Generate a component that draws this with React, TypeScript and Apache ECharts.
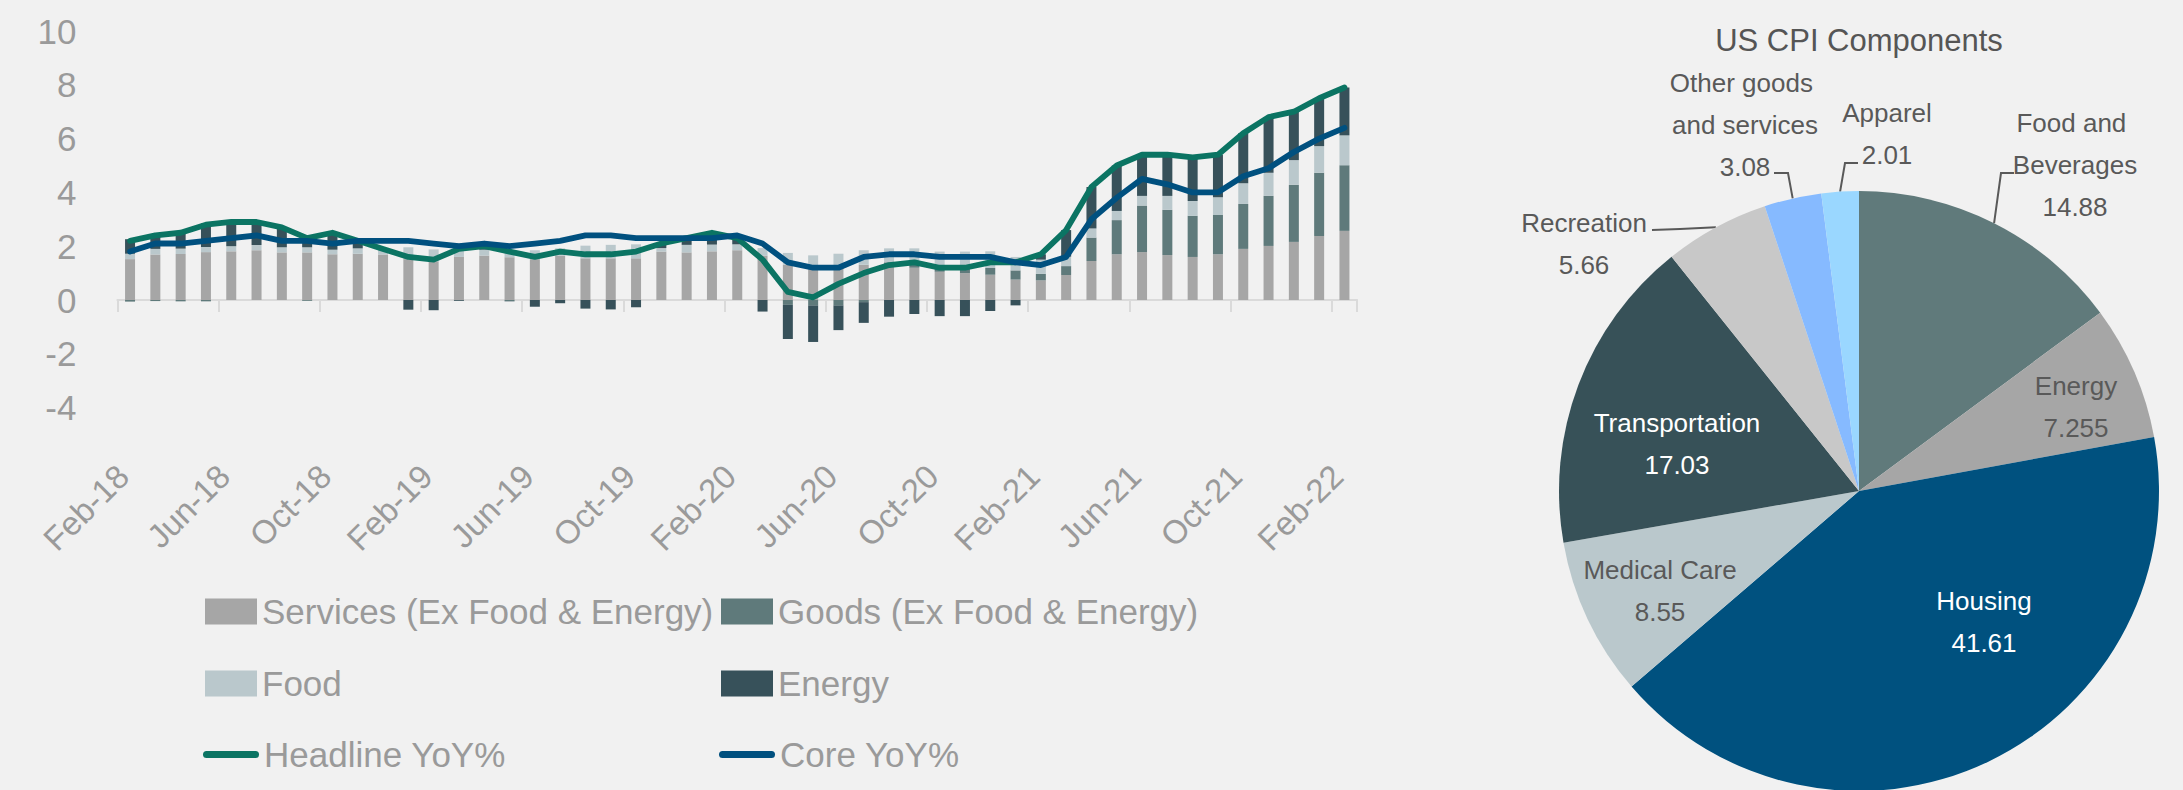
import React, { useEffect, useRef } from 'react';
import * as echarts from 'echarts';

// ---------- Data ----------
const months = [
  'Feb-18', 'Mar-18', 'Apr-18', 'May-18', 'Jun-18', 'Jul-18', 'Aug-18', 'Sep-18', 'Oct-18', 'Nov-18', 'Dec-18',
  'Jan-19', 'Feb-19', 'Mar-19', 'Apr-19', 'May-19', 'Jun-19', 'Jul-19', 'Aug-19', 'Sep-19', 'Oct-19', 'Nov-19', 'Dec-19',
  'Jan-20', 'Feb-20', 'Mar-20', 'Apr-20', 'May-20', 'Jun-20', 'Jul-20', 'Aug-20', 'Sep-20', 'Oct-20', 'Nov-20', 'Dec-20',
  'Jan-21', 'Feb-21', 'Mar-21', 'Apr-21', 'May-21', 'Jun-21', 'Jul-21', 'Aug-21', 'Sep-21', 'Oct-21', 'Nov-21', 'Dec-21',
  'Jan-22', 'Feb-22',
];

const services = [
  1.52, 1.69, 1.71, 1.78, 1.81, 1.85, 1.77, 1.77, 1.70, 1.72, 1.69,
  1.52, 1.44, 1.60, 1.65, 1.59, 1.52, 1.65, 1.55, 1.55, 1.55, 1.80, 1.77,
  1.81, 1.85, 1.65, 1.31, 1.23, 1.19, 1.31, 1.28, 1.20, 1.05, 1.00, 0.94,
  0.76, 0.73, 0.93, 1.45, 1.70, 1.78, 1.67, 1.60, 1.70, 1.90, 2.01, 2.16,
  2.38, 2.57,
];

const goods = [
  -0.06, -0.04, -0.05, -0.05, 0.00, 0.00, 0.00, -0.03, 0.00, 0.00, 0.00,
  0.00, 0.00, 0.00, 0.00, -0.04, 0.00, 0.00, 0.00, 0.00, 0.00, 0.00, 0.00,
  0.00, 0.00, 0.00, -0.18, -0.20, -0.20, -0.08, 0.12, 0.12, 0.20, 0.25, 0.25,
  0.34, 0.24, 0.33, 0.87, 1.27, 1.73, 1.68, 1.53, 1.46, 1.67, 1.86, 2.12,
  2.35, 2.44,
];

const food = [
  0.20, 0.21, 0.20, 0.19, 0.19, 0.19, 0.19, 0.19, 0.17, 0.20, 0.20,
  0.44, 0.44, 0.33, 0.22, 0.26, 0.33, 0.27, 0.47, 0.50, 0.52, 0.13, 0.28,
  0.25, 0.22, 0.28, 0.44, 0.43, 0.53, 0.54, 0.52, 0.60, 0.55, 0.55, 0.62,
  0.50, 0.53, 0.35, 0.34, 0.34, 0.36, 0.52, 0.55, 0.66, 0.77, 0.86, 0.92,
  0.99, 1.11,
];

const energy = [
  0.54, 0.54, 0.64, 0.88, 0.90, 0.86, 0.74, 0.37, 0.63, 0.28, 0.01,
  -0.36, -0.38, -0.03, 0.13, -0.01, -0.25, -0.12, -0.32, -0.35, -0.27, 0.17, 0.25,
  0.44, 0.23, -0.43, -1.27, -1.36, -0.92, -0.77, -0.62, -0.52, -0.60, -0.60, -0.41,
  -0.20, 0.20, 0.99, 1.54, 1.69, 1.53, 1.53, 1.62, 1.58, 1.86, 2.07, 1.80,
  1.78, 1.78,
];

const headline = [
  2.2, 2.4, 2.5, 2.8, 2.9, 2.9, 2.7, 2.3, 2.5, 2.2, 1.9,
  1.6, 1.5, 1.9, 2.0, 1.8, 1.6, 1.8, 1.7, 1.7, 1.8, 2.1, 2.3,
  2.5, 2.3, 1.5, 0.3, 0.1, 0.6, 1.0, 1.3, 1.4, 1.2, 1.2, 1.4,
  1.4, 1.7, 2.6, 4.2, 5.0, 5.4, 5.4, 5.3, 5.4, 6.2, 6.8, 7.0,
  7.5, 7.9,
];

const core = [
  1.8, 2.1, 2.1, 2.2, 2.3, 2.4, 2.2, 2.2, 2.1, 2.2, 2.2,
  2.2, 2.1, 2.0, 2.1, 2.0, 2.1, 2.2, 2.4, 2.4, 2.3, 2.3, 2.3,
  2.3, 2.4, 2.1, 1.4, 1.2, 1.2, 1.6, 1.7, 1.7, 1.6, 1.6, 1.6,
  1.4, 1.3, 1.6, 3.0, 3.8, 4.5, 4.3, 4.0, 4.0, 4.6, 4.9, 5.5,
  6.0, 6.4,
];

const yTicks = { min: -4, max: 10, interval: 2 };

const pieNames = [
  'Food and Beverages', 'Energy', 'Housing', 'Medical Care',
  'Transportation', 'Recreation', 'Other goods and services', 'Apparel',
];
const pieValues = [14.88, 7.255, 41.61, 8.55, 17.03, 5.66, 3.08, 2.01];

// ---------- Styles / layout ----------
const FONT = "'Liberation Sans', Arial, sans-serif";
const AXIS_TEXT = '#9a9a9a';
const DARK_TEXT = '#595959';

const seriesNames = {
  services: 'Services (Ex Food & Energy)',
  goods: 'Goods (Ex Food & Energy)',
  food: 'Food',
  energy: 'Energy',
  headline: 'Headline YoY%',
  core: 'Core YoY%',
};

const barColors = {
  services: '#a6a6a6',
  goods: '#5f7a7b',
  food: '#bac8cc',
  energy: '#37515a',
};
const lineColors = { headline: '#0b7463', core: '#00507f' };

const pieColors = ['#607a7b', '#a6a6a6', '#00517f', '#bac8cc', '#375158', '#c8c8c8', '#86baff', '#9ad7ff'];
const pieWhiteText = ['Housing', 'Transportation'];
const pieInside = ['Energy', 'Housing', 'Medical Care', 'Transportation'];

const PIE_CENTER = [1859, 491];
const PIE_RADIUS = 300;

// label placement (text block centres and leader line bends)
const PIE_LABEL_LAYOUT: Record<string, { x: number; y: number; line?: number[][] }> = {
  'Food and Beverages': { x: 2075, y: 165, line: [[2001, 173], [2014, 173]] },
  Energy: { x: 2076, y: 407 },
  Housing: { x: 1984, y: 622 },
  'Medical Care': { x: 1660, y: 591 },
  Transportation: { x: 1677, y: 444 },
  Recreation: { x: 1584, y: 244, line: [[1680, 229], [1652, 230]] },
  'Other goods and services': { x: 1745, y: 125, line: [[1788, 173], [1774, 173]] },
  Apparel: { x: 1887, y: 134, line: [[1845, 163], [1858, 163]] },
};

const LEGEND_LAYOUT = [
  { key: 'services', left: 205, top: 594, line: false },
  { key: 'goods', left: 721, top: 594, line: false },
  { key: 'food', left: 205, top: 666, line: false },
  { key: 'energy', left: 721, top: 666, line: false },
  { key: 'headline', left: 203, top: 737, line: true },
  { key: 'core', left: 719, top: 737, line: true },
];

function edgePoint(index: number): number[] {
  const total = pieValues.reduce((a, b) => a + b, 0);
  let before = 0;
  for (let i = 0; i < index; i++) before += pieValues[i];
  const mid = (before + pieValues[index] / 2) / total;
  const ang = (90 - mid * 360) * (Math.PI / 180);
  return [PIE_CENTER[0] + PIE_RADIUS * Math.cos(ang), PIE_CENTER[1] - PIE_RADIUS * Math.sin(ang)];
}

export default function App() {
  const ref = useRef<HTMLDivElement>(null);

  useEffect(() => {
    document.body.style.margin = '0';
    if (!ref.current) return;
    const chart = echarts.init(ref.current, undefined, { renderer: 'svg' });

    const barSeries = (['services', 'goods', 'food', 'energy'] as const).map((k) => ({
      name: seriesNames[k],
      type: 'bar',
      stack: 'contrib',
      barWidth: 10,
      xAxisIndex: 0,
      yAxisIndex: 0,
      data: { services, goods, food, energy }[k],
      itemStyle: { color: barColors[k], borderWidth: 0 },
      emphasis: { disabled: true },
    }));

    const lineSeries = (['headline', 'core'] as const).map((k) => ({
      name: seriesNames[k],
      type: 'line',
      xAxisIndex: 0,
      yAxisIndex: 0,
      data: { headline, core }[k],
      symbol: 'none',
      smooth: false,
      lineStyle: { color: lineColors[k], width: 5.8, cap: 'round', join: 'round' },
      itemStyle: { color: lineColors[k] },
      emphasis: { disabled: true },
    }));

    const legends = LEGEND_LAYOUT.map((l) => ({
      data: [seriesNames[l.key as keyof typeof seriesNames]],
      left: l.left,
      top: l.top,
      padding: 0,
      orient: 'horizontal',
      selectedMode: false,
      itemWidth: l.line ? 56 : 52,
      itemHeight: l.line ? 7 : 26,
      itemGap: 5,
      icon: l.line ? 'path://M3.5,0 L52.5,0 A3.5,3.5 0 0 1 52.5,7 L3.5,7 A3.5,3.5 0 0 1 3.5,0 Z' : 'rect',
      textStyle: { fontFamily: FONT, fontSize: 35, color: AXIS_TEXT, lineHeight: 34 },
    }));

    const option: any = {
      animation: false,
      backgroundColor: '#f1f1f1',
      textStyle: { fontFamily: FONT },
      title: {
        text: 'US CPI Components',
        left: PIE_CENTER[0],
        top: 25,
        padding: 0,
        textAlign: 'center',
        textStyle: { fontFamily: FONT, fontSize: 31, fontWeight: 'normal', color: '#555555' },
      },
      legend: legends,
      grid: {
        left: 117.4,
        top: 31,
        width: 1239.7,
        height: 376.6,
        containLabel: false,
        outerBoundsMode: 'none',
      },
      xAxis: [
        {
          type: 'category',
          data: months,
          position: 'bottom',
          boundaryGap: true,
          axisLine: { show: false, onZero: false },
          axisTick: { show: false },
          splitLine: { show: false },
          axisLabel: {
            interval: 3,
            rotate: 45,
            margin: 56,
            padding: [0, 10, 0, 0],
            fontFamily: FONT,
            fontSize: 33,
            color: AXIS_TEXT,
          },
        },
        {
          type: 'category',
          data: months,
          position: 'bottom',
          boundaryGap: true,
          axisLine: { show: true, onZero: true, lineStyle: { color: '#dadada', width: 2 } },
          axisTick: { show: true, interval: 3, length: 12, lineStyle: { color: '#dadada', width: 2 } },
          axisLabel: { show: false },
          splitLine: { show: false },
        },
      ],
      yAxis: {
        type: 'value',
        min: yTicks.min,
        max: yTicks.max,
        interval: yTicks.interval,
        axisLine: { show: false },
        axisTick: { show: false },
        splitLine: { show: false },
        axisLabel: { margin: 41, fontFamily: FONT, fontSize: 35, color: AXIS_TEXT },
      },
      series: [
        ...barSeries,
        ...lineSeries,
        {
          name: 'US CPI Components',
          type: 'pie',
          center: PIE_CENTER,
          radius: PIE_RADIUS,
          startAngle: 90,
          clockwise: true,
          avoidLabelOverlap: false,
          emphasis: { disabled: true },
          itemStyle: { borderWidth: 0 },
          label: {
            formatter: '{b}\n{c}',
            fontFamily: FONT,
            fontSize: 26,
            lineHeight: 42,
            color: DARK_TEXT,
          },
          labelLine: { show: true, length: 20, length2: 10, lineStyle: { color: DARK_TEXT, width: 2 } },
          labelLayout: (params: any) => {
            const name = pieNames[params.dataIndex];
            const p = PIE_LABEL_LAYOUT[name];
            if (!p) return {};
            const out: any = { x: p.x, y: p.y, align: 'center', verticalAlign: 'middle' };
            if (p.line) out.labelLinePoints = [edgePoint(params.dataIndex), ...p.line];
            return out;
          },
          data: pieNames.map((n, i) => {
            const inside = pieInside.includes(n);
            return {
              name: n,
              value: pieValues[i],
              itemStyle: { color: pieColors[i] },
              label: {
                position: inside ? 'inside' : 'outside',
                color: pieWhiteText.includes(n) ? '#ffffff' : DARK_TEXT,
                width: n.length > 12 && !inside ? 155 : undefined,
                overflow: n.length > 12 && !inside ? 'break' : 'none',
              },
              labelLine: { show: !inside },
            };
          }),
        },
      ],
    };

    chart.setOption(option);
    return () => chart.dispose();
  }, []);

  return (
    <div
      ref={ref}
      style={{ position: 'fixed', left: 0, top: 0, width: 2183, height: 790, background: '#f1f1f1' }}
    />
  );
}
